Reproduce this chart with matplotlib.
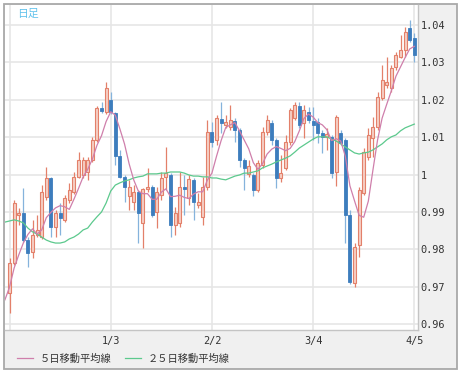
import numpy as np
import matplotlib
matplotlib.use("Agg")
import matplotlib.pyplot as plt
from matplotlib.patches import Rectangle
from matplotlib.lines import Line2D

# daily candles, index 0 = first visible day
opens = [0.9683, 0.9764, 0.9892, 0.9897, 0.9825, 0.9793, 0.9838, 0.9833, 0.9940, 0.9991,
         0.9860, 0.9897, 0.9879, 0.9932, 0.9953, 0.9994, 0.9999, 1.0007, 1.0039, 1.0092,
         1.0178, 1.0167, 1.0199, 1.0165, 1.0050, 0.9994, 0.9943, 0.9927, 0.9953, 0.9871,
         0.9961, 0.9967, 0.9900, 0.9945, 0.9994, 0.9999, 0.9865, 0.9871, 0.9967, 0.9937,
         0.9986, 0.9919, 0.9887, 0.9967, 1.0114, 1.0092, 1.0149, 1.0133, 1.0127, 1.0143,
         1.0119, 1.0039, 1.0002, 0.9999, 0.9959, 1.0026, 1.0114, 1.0138, 1.0092, 0.9991,
         1.0018, 1.0087, 1.0151, 1.0183, 1.0138, 1.0167, 1.0143, 1.0141, 1.0111, 1.0101,
         1.0101, 1.0007, 1.0111, 1.0092, 0.9892, 0.9710, 0.9812, 0.9951, 1.0047, 1.0098,
         1.0127, 1.0205, 1.0240, 1.0232, 1.0288, 1.0314, 1.0333, 1.0392, 1.0365]
highs = [0.9777, 0.9932, 0.9911, 0.9964, 0.9833, 0.9879, 0.9892, 0.9972, 1.0020, 0.9994,
         0.9905, 0.9924, 0.9945, 0.9978, 1.0007, 1.0060, 1.0047, 1.0047, 1.0101, 1.0183,
         1.0194, 1.0248, 1.0221, 1.0167, 1.0066, 0.9999, 0.9986, 0.9972, 0.9959, 0.9964,
         1.0018, 0.9972, 0.9967, 1.0007, 1.0074, 1.0004, 0.9913, 1.0007, 0.9999, 0.9999,
         0.9991, 0.9951, 0.9994, 1.0146, 1.0141, 1.0159, 1.0194, 1.0159, 1.0186, 1.0151,
         1.0125, 1.0044, 1.0039, 1.0004, 1.0039, 1.0127, 1.0159, 1.0146, 1.0098, 1.0052,
         1.0106, 1.0178, 1.0194, 1.0194, 1.0186, 1.0181, 1.0181, 1.0151, 1.0119, 1.0125,
         1.0106, 1.0159, 1.0119, 1.0098, 0.9905, 0.9817, 0.9967, 1.0071, 1.0125, 1.0154,
         1.0221, 1.0293, 1.0314, 1.0293, 1.0328, 1.0373, 1.0395, 1.0413, 1.0379]
lows = [0.9630, 0.9758, 0.9865, 0.9820, 0.9753, 0.9777, 0.9833, 0.9828, 0.9932, 0.9833,
        0.9833, 0.9838, 0.9873, 0.9924, 0.9948, 0.9991, 0.9991, 0.9986, 1.0034, 1.0087,
        1.0165, 1.0162, 1.0162, 1.0026, 0.9991, 0.9927, 0.9905, 0.9905, 0.9817, 0.9804,
        0.9953, 0.9887, 0.9857, 0.9932, 0.9959, 0.9833, 0.9838, 0.9860, 0.9892, 0.9919,
        0.9879, 0.9911, 0.9865, 0.9959, 1.0074, 1.0079, 1.0111, 1.0125, 1.0119, 1.0087,
        1.0020, 0.9959, 0.9994, 0.9943, 0.9953, 1.0018, 1.0106, 1.0079, 0.9964, 0.9980,
        1.0012, 1.0079, 1.0146, 1.0125, 1.0098, 1.0138, 1.0092, 1.0084, 1.0058, 1.0066,
        0.9991, 0.9969, 1.0079, 0.9817, 0.9707, 0.9699, 0.9780, 0.9945, 1.0039, 1.0047,
        1.0119, 1.0199, 1.0232, 1.0221, 1.0280, 1.0312, 1.0314, 1.0355, 1.0301]
closes = [0.9764, 0.9924, 0.9897, 0.9825, 0.9790, 0.9838, 0.9852, 0.9953, 0.9991, 0.9860,
          0.9897, 0.9884, 0.9937, 0.9959, 0.9994, 1.0039, 1.0039, 1.0039, 1.0092, 1.0178,
          1.0170, 1.0232, 1.0167, 1.0050, 0.9994, 0.9967, 0.9967, 0.9953, 0.9897, 0.9961,
          0.9967, 0.9892, 0.9953, 0.9991, 1.0004, 0.9865, 0.9897, 0.9967, 0.9961, 0.9988,
          0.9927, 0.9927, 0.9967, 1.0114, 1.0087, 1.0151, 1.0138, 1.0141, 1.0146, 1.0119,
          1.0039, 1.0018, 1.0023, 0.9959, 1.0031, 1.0114, 1.0146, 1.0092, 0.9991, 1.0004,
          1.0087, 1.0173, 1.0186, 1.0133, 1.0173, 1.0146, 1.0133, 1.0111, 1.0101, 1.0109,
          1.0004, 1.0154, 1.0084, 0.9892, 0.9713, 0.9806, 0.9959, 1.0060, 1.0106, 1.0127,
          1.0207, 1.0253, 1.0248, 1.0285, 1.0320, 1.0333, 1.0381, 1.0360, 1.0320]

# moving averages as drawn, starting one day before the first candle
ma5 = [0.9665, 0.9699, 0.9750, 0.9785, 0.9817, 0.9840, 0.9855, 0.9841, 0.9852, 0.9885,
       0.9899, 0.9911, 0.9917, 0.9914, 0.9907, 0.9934, 0.9963, 0.9994, 1.0014, 1.0041,
       1.0078, 1.0104, 1.0142, 1.0168, 1.0159, 1.0122, 1.0082, 1.0029, 0.9986, 0.9956,
       0.9949, 0.9949, 0.9934, 0.9934, 0.9953, 0.9962, 0.9941, 0.9942, 0.9945, 0.9939,
       0.9936, 0.9948, 0.9954, 0.9954, 0.9985, 1.0004, 1.0049, 1.0091, 1.0126, 1.0133,
       1.0139, 1.0117, 1.0093, 1.0069, 1.0032, 1.0014, 1.0029, 1.0055, 1.0068, 1.0075,
       1.0070, 1.0064, 1.0070, 1.0088, 1.0117, 1.0150, 1.0162, 1.0154, 1.0139, 1.0133,
       1.0120, 1.0091, 1.0096, 1.0090, 1.0049, 0.9970, 0.9930, 0.9891, 0.9886, 0.9929,
       1.0012, 1.0092, 1.0151, 1.0188, 1.0224, 1.0263, 1.0288, 1.0313, 1.0336, 1.0343]
ma25 = [0.9873, 0.9876, 0.9879, 0.9876, 0.9871, 0.9857, 0.9847, 0.9841, 0.9833, 0.9825,
        0.9820, 0.9817, 0.9817, 0.9820, 0.9828, 0.9833, 0.9841, 0.9852, 0.9857, 0.9873,
        0.9887, 0.9900, 0.9924, 0.9956, 0.9972, 0.9978, 0.9983, 0.9986, 0.9991, 0.9994,
        0.9996, 1.0002, 1.0002, 1.0002, 1.0004, 1.0004, 1.0007, 1.0007, 1.0007, 1.0004,
        0.9999, 0.9996, 0.9996, 0.9994, 0.9994, 0.9991, 0.9991, 0.9988, 0.9986, 0.9991,
        0.9996, 0.9999, 1.0004, 1.0004, 1.0007, 1.0010, 1.0018, 1.0023, 1.0028, 1.0034,
        1.0039, 1.0044, 1.0050, 1.0060, 1.0071, 1.0079, 1.0087, 1.0095, 1.0101, 1.0101,
        1.0101, 1.0095, 1.0090, 1.0082, 1.0074, 1.0066, 1.0058, 1.0055, 1.0058, 1.0060,
        1.0066, 1.0074, 1.0082, 1.0093, 1.0101, 1.0106, 1.0117, 1.0125, 1.0130, 1.0135]

date_ticks = [0, 22, 44, 66, 88]
date_labels = ["", "1/3", "2/2", "3/4", "4/5"]
price_ticks = [0.96, 0.97, 0.98, 0.99, 1.0, 1.01, 1.02, 1.03, 1.04]
price_labels = ["0.96", "0.97", "0.98", "0.99", "1", "1.01", "1.02", "1.03", "1.04"]

UP_EDGE = "#e3806a"
UP_FILL = "#f6cfc4"
DOWN_BODY = "#3d7dbd"
DOWN_WICK = "#85b3dc"
MA5_COLOR = "#cf7fab"
MA25_COLOR = "#5cc98d"
JP_FONT = ["Noto Sans CJK JP", "DejaVu Sans"]

fig = plt.figure(figsize=(4.62, 3.75), dpi=100)
fig.patch.set_facecolor("white")

# outer grey panel with frame
fig.add_artist(Rectangle((3.5 / 462, 1 - 368.5 / 375), 453.5 / 462, 364.5 / 375,
                         transform=fig.transFigure, facecolor="#f0f0f0",
                         edgecolor="#a9a9a9", linewidth=1.3, zorder=0))

ax = fig.add_axes([5 / 462, 1 - 330 / 375, 413 / 462, 325 / 375])
ax.set_facecolor("white")

x = np.arange(len(closes))
o = np.array(opens)
c = np.array(closes)
up = c >= o

# wicks
ax.vlines(x[up], np.array(lows)[up], np.array(highs)[up], color=UP_EDGE, lw=0.9, zorder=2)
ax.vlines(x[~up], np.array(lows)[~up], np.array(highs)[~up], color=DOWN_WICK, lw=0.9, zorder=2)

# bodies
body_w = 0.66
ax.bar(x[up], (c - o)[up], bottom=o[up], width=body_w, color=UP_FILL,
       edgecolor=UP_EDGE, linewidth=0.8, zorder=3)
ax.bar(x[~up], (o - c)[~up], bottom=c[~up], width=body_w, color=DOWN_BODY,
       edgecolor=DOWN_BODY, linewidth=0.6, zorder=3)

xm = np.arange(-1, len(closes))
ax.plot(xm, ma25, color=MA25_COLOR, lw=0.9, zorder=4)
ax.plot(xm, ma5, color=MA5_COLOR, lw=0.9, zorder=4)

ax.set_xlim(-0.98, 88.8)
ax.set_ylim(0.95845, 1.04535)

ax.set_xticks(date_ticks)
ax.set_xticklabels(date_labels, fontfamily="DejaVu Sans Mono", fontsize=7.4, color="#333333")
ax.set_yticks(price_ticks)
ax.set_yticklabels(price_labels, fontfamily="DejaVu Sans Mono", fontsize=7.4, color="#333333")
ax.yaxis.tick_right()
ax.tick_params(axis="y", length=0, pad=2)
ax.tick_params(axis="x", length=0, pad=4.5)
ax.grid(True, color="#e6e6e6", lw=1.2, zorder=0)
ax.set_axisbelow(True)

for side in ["top", "left"]:
    ax.spines[side].set_visible(False)
for side in ["right", "bottom"]:
    ax.spines[side].set_color("#c4c4c4")
    ax.spines[side].set_linewidth(1.0)

ax.text(12 / 413, 1 - 9 / 325, "日足", transform=ax.transAxes, ha="left", va="center",
        fontsize=7.8, color="#62c2ec", family=JP_FONT)

# legend along the bottom
def px(xp, yp):
    return xp / 462, 1 - yp / 375

for x0, x1, tx, col, label in [(17, 33, 40, MA5_COLOR, "５日移動平均線"),
                               (125, 141, 148, MA25_COLOR, "２５日移動平均線")]:
    (a, b), (a2, _) = px(x0, 358), px(x1, 358)
    fig.add_artist(Line2D([a, a2], [b, b], transform=fig.transFigure, color=col, lw=0.9))
    tx0, ty0 = px(tx, 358.5)
    fig.text(tx0, ty0, label, ha="left", va="center", fontsize=7.4, color="#333333",
             family=JP_FONT)

fig.savefig("out.png", dpi=100)
